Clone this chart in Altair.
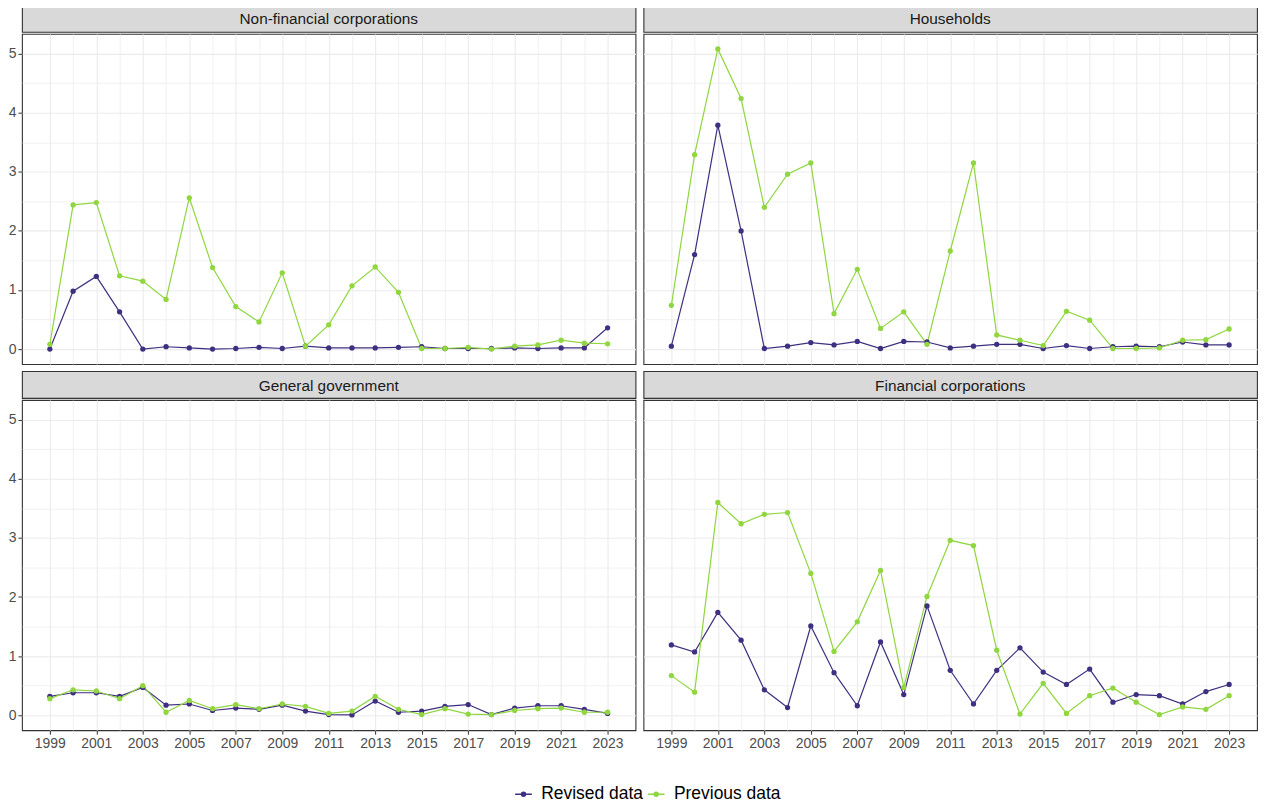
import altair as alt
import pandas as pd

years = list(range(1999, 2024))
sectors = ["Non-financial corporations", "Households", "General government", "Financial corporations"]
series_names = ["Revised data", "Previous data"]
series_colors = ["#3F2F80", "#8FD63F"]

nfc_revised = [0.00, 0.98, 1.23, 0.63, 0.00, 0.04, 0.02, 0.00, 0.01, 0.03, 0.01, 0.05, 0.02,
               0.02, 0.02, 0.03, 0.04, 0.01, 0.01, 0.01, 0.02, 0.01, 0.02, 0.02, 0.36]
nfc_previous = [0.08, 2.44, 2.48, 1.24, 1.15, 0.84, 2.56, 1.38, 0.72, 0.46, 1.29, 0.05, 0.41,
                1.07, 1.39, 0.96, 0.01, 0.01, 0.03, 0.00, 0.05, 0.07, 0.15, 0.10, 0.09]
hh_revised = [0.05, 1.60, 3.79, 2.00, 0.01, 0.05, 0.11, 0.07, 0.13, 0.01, 0.13, 0.12, 0.02,
              0.05, 0.08, 0.08, 0.01, 0.06, 0.01, 0.04, 0.05, 0.04, 0.12, 0.07, 0.07]
hh_previous = [0.74, 3.29, 5.08, 4.24, 2.40, 2.96, 3.15, 0.60, 1.35, 0.35, 0.63, 0.08, 1.66,
               3.15, 0.24, 0.15, 0.06, 0.64, 0.49, 0.01, 0.01, 0.02, 0.15, 0.16, 0.34]
gg_revised = [0.32, 0.38, 0.38, 0.32, 0.47, 0.17, 0.19, 0.08, 0.12, 0.10, 0.17, 0.07, 0.01,
              0.005, 0.24, 0.05, 0.07, 0.15, 0.18, 0.01, 0.12, 0.16, 0.16, 0.10, 0.03]
gg_previous = [0.28, 0.43, 0.41, 0.28, 0.50, 0.05, 0.25, 0.11, 0.18, 0.11, 0.19, 0.15, 0.03,
               0.07, 0.32, 0.10, 0.01, 0.11, 0.02, 0.01, 0.08, 0.11, 0.12, 0.05, 0.05]
fc_revised = [1.19, 1.07, 1.74, 1.27, 0.43, 0.13, 1.51, 0.72, 0.16, 1.24, 0.35, 1.85, 0.76,
              0.19, 0.76, 1.14, 0.73, 0.52, 0.78, 0.22, 0.35, 0.33, 0.19, 0.40, 0.52]
fc_previous = [0.67, 0.39, 3.60, 3.24, 3.40, 3.43, 2.40, 1.08, 1.58, 2.45, 0.47, 2.01, 2.96,
               2.87, 1.10, 0.02, 0.54, 0.03, 0.33, 0.46, 0.22, 0.01, 0.14, 0.10, 0.33]

revised_by_sector = [nfc_revised, hh_revised, gg_revised, fc_revised]
previous_by_sector = [nfc_previous, hh_previous, gg_previous, fc_previous]

rows = []
for sector, rev, prev in zip(sectors, revised_by_sector, previous_by_sector):
    for name, vals in zip(series_names, [rev, prev]):
        for yr, v in zip(years, vals):
            rows.append({"sector": sector, "year": yr, "series": name, "value": v})
df = pd.DataFrame(rows)

W = 615
H = 331
SH = 27
FONT = "Liberation Sans"

y_values = [i * 0.5 for i in range(11)]

minor_x = {"condition": {"test": "datum.value % 2 == 0", "value": 0.7}, "value": 1.1}
minor_y = {"condition": {"test": "datum.value % 1 != 0", "value": 0.7}, "value": 1.1}


def x_axis(show):
    if show:
        return alt.Axis(values=years, grid=True, labels=True, ticks=True, domain=False,
                        labelExpr="datum.value % 2 == 1 ? format(datum.value, 'd') : ''",
                        tickOpacity={"condition": {"test": "datum.value % 2 == 0", "value": 0}, "value": 1},
                        gridWidth=minor_x, title=None)
    return alt.Axis(values=years, grid=True, labels=False, ticks=False, domain=False,
                    gridWidth=minor_x, title=None)


def y_axis(show):
    if show:
        return alt.Axis(values=y_values, grid=True, labels=True, ticks=True, domain=False,
                        labelExpr="datum.value % 1 == 0 ? format(datum.value, 'd') : ''",
                        tickOpacity={"condition": {"test": "datum.value % 1 != 0", "value": 0}, "value": 1},
                        gridWidth=minor_y, title=None)
    return alt.Axis(values=y_values, grid=True, labels=False, ticks=False, domain=False,
                    gridWidth=minor_y, title=None)


legend = alt.Legend(
    title=None, orient="none", direction="horizontal", legendX=494, legendY=782,
    labelFont=FONT, labelFontSize=17.5, labelColor="#000000",
    symbolType="M-1.2,0L1.2,0M-0.28,0A0.28,0.28 0 1,0 0.28,0A0.28,0.28 0 1,0 -0.28,0Z",
    symbolSize=196, symbolStrokeWidth=1.6, columnPadding=1, labelOffset=9,
)


def panel(sector, show_x, show_y):
    d = df[df["sector"] == sector]
    base = alt.Chart(d)
    x = alt.X("year:Q", scale=alt.Scale(domain=[1997.8, 2024.2], nice=False, zero=False), axis=x_axis(show_x))
    y = alt.Y("value:Q", scale=alt.Scale(domain=[-0.254, 5.334], nice=False, zero=False), axis=y_axis(show_y))
    color = alt.Color("series:N", scale=alt.Scale(domain=series_names, range=series_colors), legend=legend,
                      sort=series_names)
    lines = base.mark_line(strokeWidth=1.2).encode(x=x, y=y, color=color)
    pts = base.mark_point(filled=True, size=28, opacity=1).encode(x=x, y=y, color=color)
    plot = alt.layer(lines, pts).properties(width=W, height=H)
    strip = alt.Chart(pd.DataFrame({"label": [sector]})).mark_text(
        font=FONT, fontSize=15.4, color="#1A1A1A", align="center", baseline="middle"
    ).encode(text="label:N", x=alt.value(W / 2), y=alt.value(SH / 2 + 1)).properties(
        width=W, height=SH, view=alt.ViewBackground(fill="#D9D9D9", stroke="#333333", strokeWidth=1.1)
    )
    return alt.vconcat(strip, plot, spacing=0)


top = alt.hconcat(panel(sectors[0], False, True), panel(sectors[1], False, False), spacing=6)
bottom = alt.hconcat(panel(sectors[2], True, True), panel(sectors[3], True, False), spacing=6)

chart = alt.vconcat(top, bottom, spacing=5).properties(
    padding={"left": -1, "top": -5, "right": 0, "bottom": 0},
    background="#FFFFFF",
).configure_view(
    stroke="#333333", strokeWidth=1.1
).configure_axis(
    labelFont=FONT, labelFontSize=14, labelColor="#4D4D4D", tickColor="#333333",
    tickSize=4, labelPadding=2, gridColor="#EBEBEB"
)

chart.save("out.html", embed_options={"renderer": "svg", "actions": False})
